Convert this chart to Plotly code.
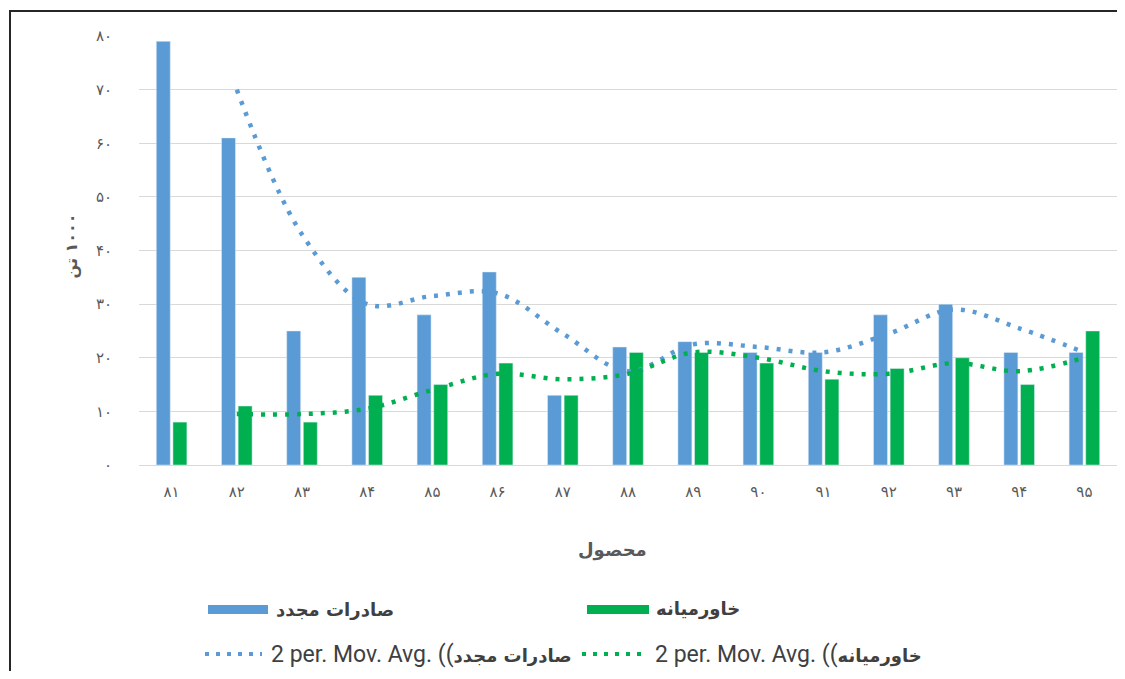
import plotly.graph_objects as go

# Data
years = ["۸۱", "۸۲", "۸۳", "۸۴", "۸۵", "۸۶", "۸۷", "۸۸", "۸۹", "۹۰", "۹۱", "۹۲", "۹۳", "۹۴", "۹۵"]
re_export = [79, 61, 25, 35, 28, 36, 13, 22, 23, 21, 21, 28, 30, 21, 21]
middle_east = [8, 11, 8, 13, 15, 19, 13, 21, 21, 19, 16, 18, 20, 15, 25]
re_export_ma = [None, 70, 43, 30, 31.5, 32, 24.5, 17.5, 22.5, 22, 21, 24.5, 29, 25.5, 21]
middle_east_ma = [None, 9.5, 9.5, 10.5, 14, 17, 16, 17, 21, 20, 17.5, 17, 19, 17.5, 20]
y_ticks = [0, 10, 20, 30, 40, 50, 60, 70, 80]
y_ticktext = ["۰", "۱۰", "۲۰", "۳۰", "۴۰", "۵۰", "۶۰", "۷۰", "۸۰"]

name_re = "صادرات مجدد"
name_me = "خاورمیانه"

BLUE = "#5b9bd5"
GREEN = "#00b050"
TXT = "#595959"
LEG = "#404040"
ARABIC = "DejaVu Sans"

# page draws the figure 8px in from the corner; keep it inside the window
OFF = 8
W, H = 1109, 663
L, R, T, B = 131, 0, 28, 206
pw, ph = W - L - R, H - T - B


def px(x):
    # page pixel -> paper x
    return (x - OFF - L) / pw


def py(y):
    # page pixel -> paper y
    return (H - B - (y - OFF)) / ph


fig = go.Figure()
fig.add_bar(x=years, y=re_export, name=name_re, marker_color=BLUE)
fig.add_bar(x=years, y=middle_east, name=name_me, marker_color=GREEN)
fig.add_scatter(x=years, y=re_export_ma, mode="lines",
                line=dict(color=BLUE, width=4.5, dash="4px,8px", shape="spline"))
fig.add_scatter(x=years, y=middle_east_ma, mode="lines",
                line=dict(color=GREEN, width=4.5, dash="4px,8px", shape="spline"))

fig.update_layout(
    width=W, height=H,
    margin=dict(l=L, r=R, t=T, b=B, pad=0),
    paper_bgcolor="white", plot_bgcolor="white",
    barmode="group", bargap=0.49, bargroupgap=0.16,
    showlegend=False,
    font=dict(family=ARABIC, color=TXT, size=13),
)
fig.update_xaxes(showgrid=False, showline=False, ticks="",
                 ticklabelstandoff=16, tickfont=dict(size=15, color=TXT))
fig.update_yaxes(range=[0, 80], tickvals=y_ticks, ticktext=y_ticktext,
                 showgrid=True, gridcolor="#d9d9d9", gridwidth=1,
                 zeroline=True, zerolinecolor="#d9d9d9", zerolinewidth=1,
                 ticks="", ticklabelstandoff=26, tickfont=dict(size=15, color=TXT))

# outer border (left and top edges are the visible ones)
fig.add_shape(type="line", xref="paper", yref="paper",
              x0=px(10), x1=px(10), y0=py(11), y1=py(720),
              line=dict(color="#262626", width=2))
fig.add_shape(type="line", xref="paper", yref="paper",
              x0=px(9), x1=px(1150), y0=py(11), y1=py(11),
              line=dict(color="#262626", width=2))

# axis titles
fig.add_annotation(xref="paper", yref="paper", x=px(60), y=py(246),
                   text="<b>\u200f۱۰۰۰ تن</b>", textangle=-90, showarrow=False,
                   font=dict(size=16, color=TXT, family=ARABIC))
fig.add_annotation(xref="paper", yref="paper", x=px(612), y=py(563),
                   text="<b>محصول</b>", showarrow=False,
                   font=dict(size=18, color=TXT, family=ARABIC))

# legend
fig.add_shape(type="rect", xref="paper", yref="paper", x0=px(208), x1=px(268),
              y0=py(614), y1=py(605), fillcolor=BLUE, line=dict(width=0))
fig.add_shape(type="rect", xref="paper", yref="paper", x0=px(587), x1=px(649),
              y0=py(614), y1=py(605), fillcolor=GREEN, line=dict(width=0))
fig.add_shape(type="line", xref="paper", yref="paper", x0=px(205), x1=px(262),
              y0=py(654), y1=py(654), line=dict(color=BLUE, width=4, dash="4px,7px"))
fig.add_shape(type="line", xref="paper", yref="paper", x0=px(582), x1=px(642),
              y0=py(654), y1=py(654), line=dict(color=GREEN, width=4, dash="4px,7px"))

latin = "<span style='font-family:Roboto;font-size:23px'>2 per. Mov. Avg. ((</span>"
legend_items = [
    (274, 609, "<b>" + name_re + "</b>"),
    (654, 609, "<b>" + name_me + "</b>"),
    (269, 654, latin + "<b>" + name_re + "</b>"),
    (653, 654, latin + "<b>" + name_me + "</b>"),
]
for x, y, t in legend_items:
    fig.add_annotation(xref="paper", yref="paper", x=px(x), y=py(y), text=t,
                       xanchor="left", yanchor="middle", showarrow=False,
                       font=dict(size=18, color=LEG, family=ARABIC))

fig.write_html("out.html")
